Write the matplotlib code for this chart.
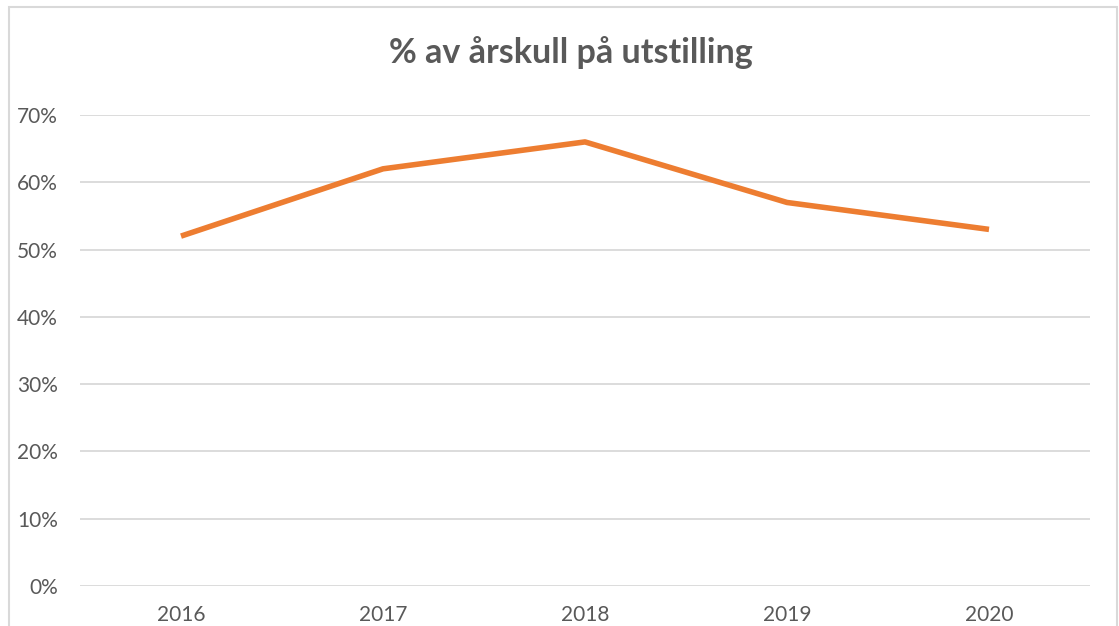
import matplotlib.pyplot as plt
from matplotlib.patches import Rectangle

aar = ["2016", "2017", "2018", "2019", "2020"]
andel = [52, 62, 66, 57, 53]  # % av årskull
y_ticks = [0, 10, 20, 30, 40, 50, 60, 70]

plt.rcParams['font.family'] = ['Lato', 'DejaVu Sans']
grå = "#595959"

fig = plt.figure(figsize=(11.19, 6.26), dpi=100)
ax = fig.add_axes([80 / 1119, 40 / 626, 1010 / 1119, 471 / 626])

# rammen rundt diagrammet
fig.patches.append(Rectangle((9 / 1119, -0.1), 1108 / 1119, 1.1 - 7 / 626,
                             transform=fig.transFigure, fill=False,
                             edgecolor="#D9D9D9", linewidth=1.5))

x = list(range(len(aar)))
ax.plot(x, andel, color="#ED7D31", linewidth=4, solid_capstyle="butt")

ax.set_xlim(-0.5, len(aar) - 0.5)
ax.set_ylim(0, 70)
ax.set_yticks(y_ticks)
ax.set_yticklabels([f"{v}%" for v in y_ticks])
ax.set_xticks(x)
ax.set_xticklabels(aar)
ax.grid(axis="y", color="#D9D9D9", linewidth=1.3)
ax.set_axisbelow(True)
for s in ax.spines.values():
    s.set_visible(False)
ax.tick_params(length=0, labelsize=15, colors=grå)
ax.tick_params(axis="y", pad=16)
ax.tick_params(axis="x", pad=14)

fig.text(571 / 1119, 1 - 53 / 626, "% av årskull på utstilling", ha="center", va="center",
         fontsize=24.5, fontweight="bold", color=grå)

fig.savefig("out.png", dpi=100)
